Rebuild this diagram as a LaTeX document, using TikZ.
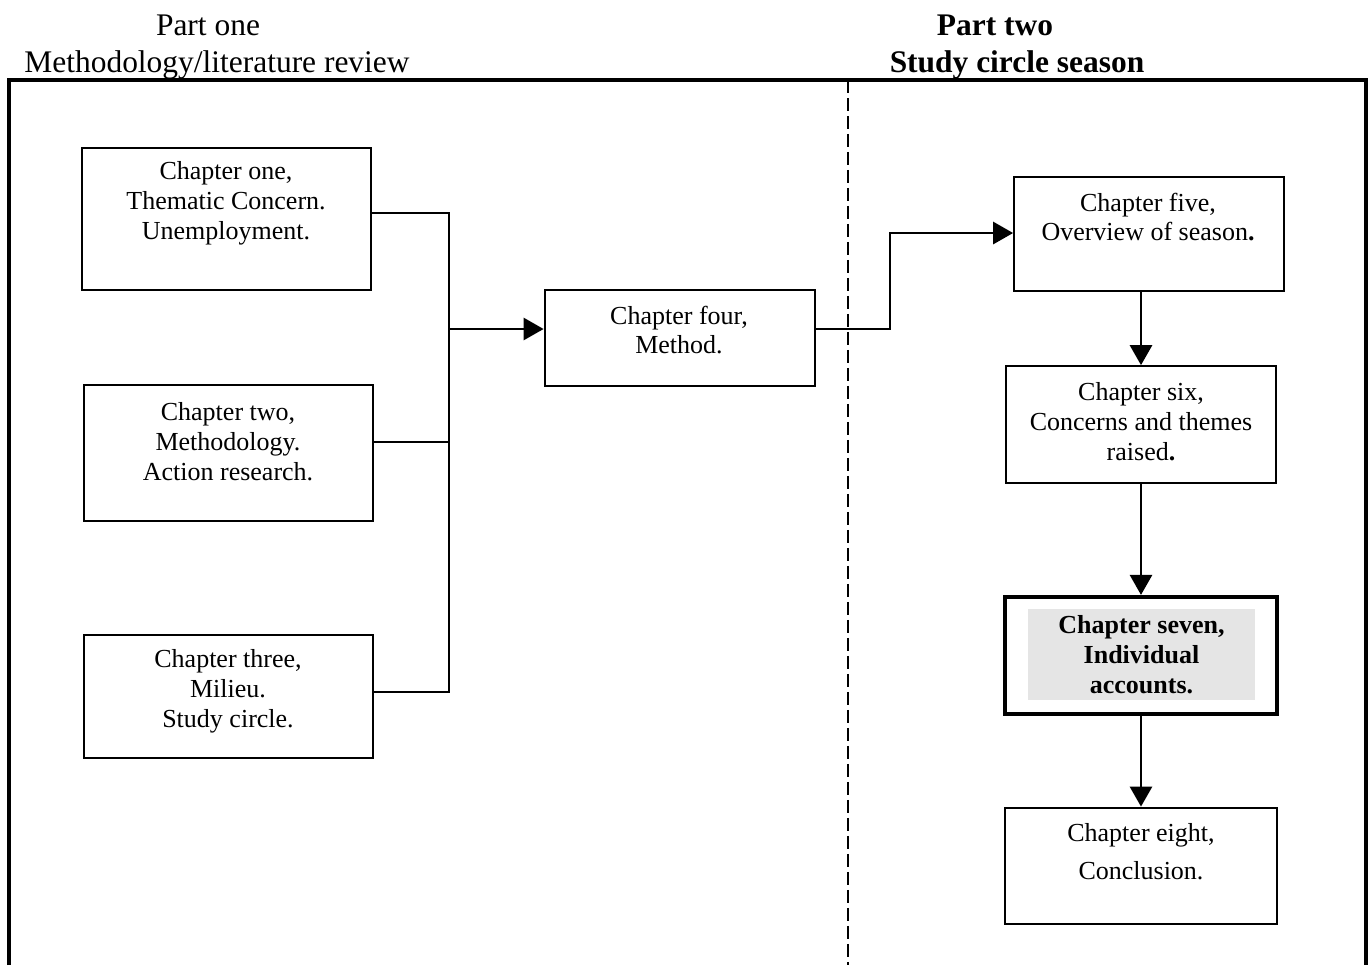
\documentclass[tikz,border=0pt]{standalone}
\usepackage{fontspec}
\setmainfont{Liberation Serif}
\usetikzlibrary{arrows.meta}

\tikzset{
  chapbox/.style={draw, line width=1.6pt, inner sep=0pt},
  thinbox/.style={chapbox, line width=1pt},
  chaptext/.style={align=center, inner sep=0pt, font=\fontsize{14.8}{17}\selectfont},
  parttitle/.style={inner sep=0pt, anchor=base, font=\fontsize{17.9}{21}\selectfont},
  conn/.style={line width=1.6pt},
  arr/.style={conn, -{Triangle[length=0.4cm,width=0.44cm]}}
}

\begin{document}
\begin{tikzpicture}[x=0.02cm, y=-0.02cm]
\useasboundingbox (0,0) rectangle (1370,965);

% headings
\node[parttitle] (p1a) at (208,35) {Part one};
\node[parttitle] (p1b) at (217,72) {Methodology/literature review};
\node[parttitle] (p2a) at (995,35) {\bfseries Part two};
\node[parttitle] (p2b) at (1017,72) {\bfseries Study circle season};

% frame and divider
\draw [line width=1.8pt] (9,965) -- (9,80) -- (1366,80) -- (1366,965);
\draw [line width=1.3pt, dash pattern=on 0.26cm off 0.1cm] (848,80) -- (848,965);

% part one
\node[thinbox, minimum width=5.78cm, minimum height=2.84cm] (ch1) at (226.5,219) {};
\node[chaptext] (ch1t) at (226,203) {Chapter one,\\Thematic Concern.\\Unemployment.};
\node[chapbox, minimum width=5.78cm, minimum height=2.72cm] (ch2) at (228.5,453) {};
\node[chaptext] (ch2t) at (228,442) {Chapter two,\\Methodology.\\Action research.};
\node[chapbox, minimum width=5.78cm, minimum height=2.46cm] (ch3) at (228.5,696.5) {};
\node[chaptext] (ch3t) at (228,691) {Chapter three,\\Milieu.\\Study circle.};
\node[chapbox, minimum width=5.40cm, minimum height=1.92cm] (ch4) at (680,338) {};
\node[chaptext] (ch4t) at (679,330) {Chapter four,\\Method.};

% part two
\node[thinbox, minimum width=5.40cm, minimum height=2.28cm] (ch5) at (1149,234) {};
\node[chaptext] (ch5t) at (1148,217) {Chapter five,\\Overview of season\textbf{.}};
\node[thinbox, minimum width=5.40cm, minimum height=2.34cm] (ch6) at (1141,424.5) {};
\node[chaptext] (ch6t) at (1141,422) {Chapter six,\\Concerns and themes\\raised\textbf{.}};
\node[chapbox, line width=2.4pt, minimum width=5.44cm, minimum height=2.34cm] (ch7) at (1141,655.5) {};
\node[chaptext, fill=black!10, minimum width=4.54cm, minimum height=1.82cm, font=\fontsize{14.8}{17}\selectfont\bfseries] (ch7t) at (1141.5,654.5) {Chapter seven,\\Individual\\accounts.};
\node[chapbox, minimum width=5.44cm, minimum height=2.32cm] (ch8) at (1141,866) {};
\node[chaptext, font=\fontsize{14.8}{21.6}\selectfont] (ch8t) at (1141,852) {Chapter eight,\\Conclusion.};

% connectors
\coordinate (j1) at (449,213);
\coordinate (j2) at (449,442);
\coordinate (j3) at (449,692);
\coordinate (jm) at (449,329);
\coordinate (k) at (890,233);
\draw[conn] (ch1.east |- j1) -- (j1) -- (j3) -- (ch3.east |- j3);
\draw[conn] (ch2.east |- j2) -- (j2);
\draw[arr] (jm) -- (jm -| ch4.west);
\draw[arr] (ch4.east |- jm) -| (k) -- (k -| ch5.west);
\draw[arr] (ch6.north |- ch5.south) -- (ch6.north);
\draw[arr] (ch6.south) -- (ch7.north);
\draw[arr] (ch7.south) -- (ch8.north);

\end{tikzpicture}
\end{document}
